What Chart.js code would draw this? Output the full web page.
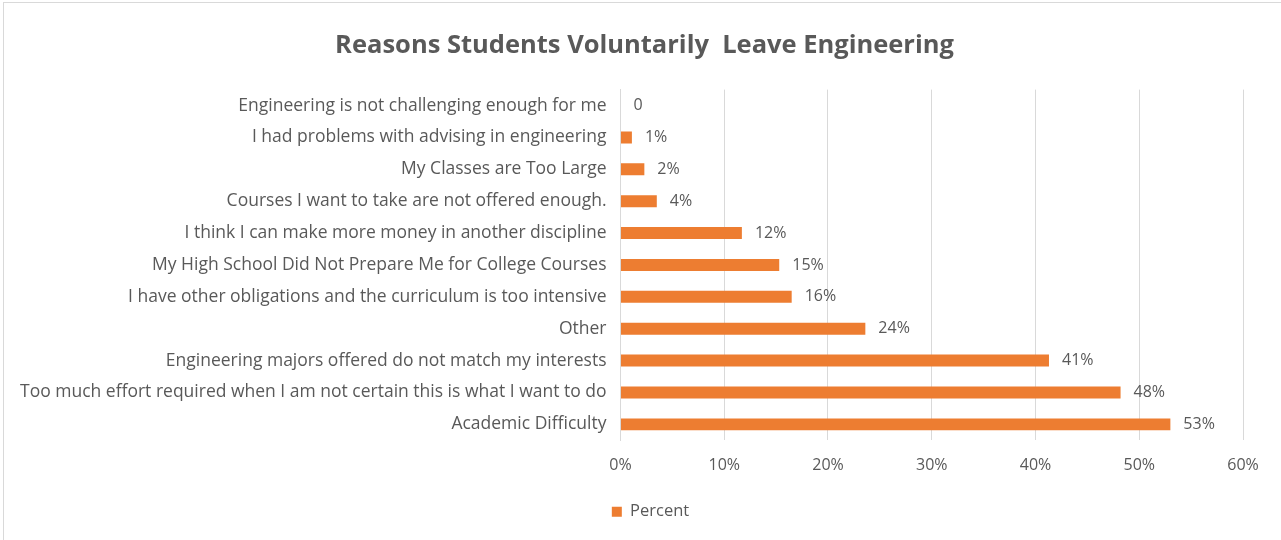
<!DOCTYPE html>
<html>
<head>
<meta charset="utf-8">
<script src="https://cdn.jsdelivr.net/npm/chart.js@4"></script>
<style>
  html, body { margin: 0; padding: 0; background: #fff; }
  #wrap { position: absolute; left: 3px; top: 2px; width: 1278px; height: 538px;
          border-left: 1px solid #d9d9d9; border-top: 1px solid #d9d9d9; box-sizing: border-box; }
  #chart { position: absolute; left: 0; top: 0; }
</style>
</head>
<body>
<div id="wrap"><canvas id="chart" width="1271" height="537"></canvas></div>
<script>
/* ---------------- DATA ---------------- */
const CATEGORIES = [
  "Engineering is not challenging enough for me",
  "I had problems with advising in engineering",
  "My Classes are Too Large",
  "Courses I want to take are not offered enough.",
  "I think I can make more money in another discipline",
  "My High School Did Not Prepare Me for College Courses",
  "I have other obligations and the curriculum is too intensive",
  "Other",
  "Engineering majors offered do not match my interests",
  "Too much effort required when I am not certain this is what I want to do",
  "Academic Difficulty"
];
const PERCENT = [0, 1.1, 2.3, 3.5, 11.7, 15.3, 16.5, 23.6, 41.3, 48.2, 53.0];   // bar lengths (%)
const VALUE_LABELS = ["0", "1%", "2%", "4%", "12%", "15%", "16%", "24%", "41%", "48%", "53%"];
const X_TICKS = [0, 10, 20, 30, 40, 50, 60];
/* -------------------------------------- */

const TEXT = "#595959";
const ORANGE = "#ed7d31";
const FONT = "'Open Sans', Lato, sans-serif";

/* value labels at the end of each bar */
const barLabels = {
  id: 'barLabels',
  afterDatasetsDraw(chart){
    const ctx = chart.ctx;
    const meta = chart.getDatasetMeta(0);
    ctx.save();
    ctx.font = "16px " + FONT;
    ctx.fillStyle = TEXT;
    ctx.textBaseline = 'middle';
    ctx.textAlign = 'left';
    meta.data.forEach((bar, i) => {
      ctx.fillText(VALUE_LABELS[i], bar.x + 13, bar.y);
    });
    ctx.restore();
  }
};

/* nudge title and legend a bit to the right, like the original */
const shiftBlocks = {
  id: 'shiftBlocks',
  afterLayout(chart){
    if(chart.titleBlock){ chart.titleBlock.left += 20; chart.titleBlock.right += 20; }
    if(chart.legend){ chart.legend.left += 26; chart.legend.right += 26; }
  }
};

new Chart(document.getElementById('chart').getContext('2d'), {
  type: 'bar',
  data: {
    labels: CATEGORIES,
    datasets: [{
      label: 'Percent',
      data: PERCENT,
      backgroundColor: ORANGE,
      borderWidth: 0,
      barPercentage: 0.75,
      categoryPercentage: 0.5
    }]
  },
  options: {
    indexAxis: 'y',
    responsive: false,
    animation: false,
    layout: { padding: { left: 2, right: 32, top: 0, bottom: 10 } },
    scales: {
      x: {
        min: 0, max: 60,
        afterBuildTicks: axis => { axis.ticks = X_TICKS.map(v => ({ value: v })); },
        ticks: {
          callback: v => v + '%',
          color: TEXT,
          font: { family: FONT, size: 16 },
          padding: 16
        },
        grid: { color: '#d9d9d9', drawTicks: false },
        border: { display: false }
      },
      y: {
        ticks: {
          color: TEXT,
          font: { family: FONT, size: 17.5 },
          padding: 14,
          autoSkip: false
        },
        grid: { display: false, drawTicks: false },
        border: { color: '#d9d9d9' }
      }
    },
    plugins: {
      title: {
        display: true,
        text: 'Reasons Students Voluntarily  Leave Engineering',
        color: TEXT,
        font: { family: FONT, size: 25.5, weight: 'bold' },
        padding: { top: 27, bottom: 29 }
      },
      legend: {
        position: 'bottom',
        align: 'center',
        labels: {
          color: TEXT,
          font: { family: FONT, size: 16.5 },
          boxWidth: 10, boxHeight: 10,
          padding: 12
        }
      },
      tooltip: { enabled: false }
    }
  },
  plugins: [barLabels, shiftBlocks]
});
</script>
</body>
</html>
